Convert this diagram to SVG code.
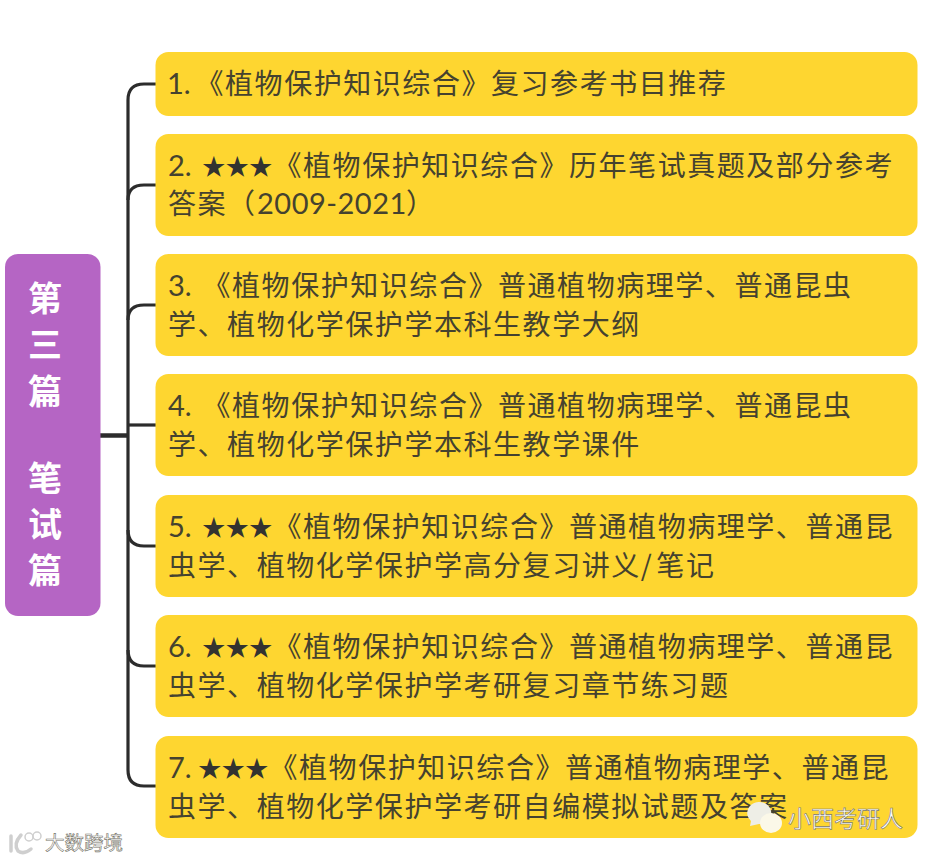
<svg xmlns="http://www.w3.org/2000/svg" width="934" height="860" viewBox="0 0 934 860">
<style>
.box{fill:#fed630}
.t{font-family:"Noto Sans CJK SC","Noto Sans",sans-serif;font-size:28px;letter-spacing:1.55px;fill:#45422f}
.n{font-family:Lato,"Liberation Sans",sans-serif;font-size:29px;fill:#45422f}
.y{font-family:Lato,"Liberation Sans",sans-serif;font-size:29px;letter-spacing:.5px;fill:#45422f}
.s{font-family:"Noto Sans CJK SC","DejaVu Sans",sans-serif;font-size:23.5px;fill:#333330}
.r{font-family:"Noto Sans CJK SC",sans-serif;font-size:34px;font-weight:700;fill:#fff;text-anchor:middle}
.c{fill:none;stroke:#2c2c2c;stroke-width:3.2}
.wm{font-family:"Noto Sans CJK SC",sans-serif;fill:#fff;stroke:#77756a;stroke-width:.6}
.lg{fill:none;stroke:#cfcfcf;stroke-linecap:round}
</style>
<rect width="934" height="860" fill="#fff"/>
<g id="connectors">
<path class="c" style="stroke-width:4.5" d="M100 435.500H128"/>
<path class="c" d="M128 435V100Q128 84 144 84H156"/>
<path class="c" d="M128 200Q128 185 144 185H156"/>
<path class="c" d="M128 320Q128 305 144 305H156"/>
<path class="c" d="M128 425H156"/>
<path class="c" d="M128 530Q128 546 144 546H156"/>
<path class="c" d="M128 435V650Q128 666 144 666H156"/>
<path class="c" d="M128 650V770Q128 786 144 786H156"/>
</g>
<g id="root">
<rect x="5" y="254" width="95.500" height="362" rx="13" fill="#b565c4"/>
<text class="r" x="45" y="311">第</text>
<text class="r" x="45" y="357">三</text>
<text class="r" x="45" y="404">篇</text>
<text class="r" x="45" y="491">笔</text>
<text class="r" x="45" y="537">试</text>
<text class="r" x="45" y="583">篇</text>
</g>
<g id="node1">
<rect class="box" x="155.500" y="52" width="762" height="64" rx="13"/>
<text class="n" x="167" y="94">1.</text>
<text class="t" x="195.500" y="94">《植物保护知识综合》复习参考书目推荐</text>
</g>
<g id="node2">
<rect class="box" x="155.500" y="134" width="762" height="102" rx="13"/>
<text class="n" x="168" y="176">2.</text>
<text class="s" x="202" y="175">★★★</text>
<text class="t" x="273.500" y="176">《植物保护知识综合》历年笔试真题及部分参考</text>
<text class="t" x="168" y="214">答案（</text>
<text class="y" x="257" y="214">2009-2021</text>
<text class="t" x="406" y="214">）</text>
</g>
<g id="node3">
<rect class="box" x="155.500" y="254" width="762" height="102" rx="13"/>
<text class="n" x="168" y="296">3.</text>
<text class="t" x="202.500" y="296">《植物保护知识综合》普通植物病理学、普通昆虫</text>
<text class="t" x="168" y="335">学、植物化学保护学本科生教学大纲</text>
</g>
<g id="node4">
<rect class="box" x="155.500" y="374" width="762" height="102" rx="13"/>
<text class="n" x="168" y="416">4.</text>
<text class="t" x="202.500" y="416">《植物保护知识综合》普通植物病理学、普通昆虫</text>
<text class="t" x="168" y="455">学、植物化学保护学本科生教学课件</text>
</g>
<g id="node5">
<rect class="box" x="155.500" y="495" width="762" height="102" rx="13"/>
<text class="n" x="168" y="537">5.</text>
<text class="s" x="202" y="536">★★★</text>
<text class="t" x="273.500" y="537">《植物保护知识综合》普通植物病理学、普通昆</text>
<text class="t" x="168" y="576">虫学、植物化学保护学高分复习讲义/<tspan dx="3">笔记</tspan></text>
</g>
<g id="node6">
<rect class="box" x="155.500" y="615" width="762" height="102" rx="13"/>
<text class="n" x="168" y="657">6.</text>
<text class="s" x="202" y="656">★★★</text>
<text class="t" x="273.500" y="657">《植物保护知识综合》普通植物病理学、普通昆</text>
<text class="t" x="168" y="696">虫学、植物化学保护学考研复习章节练习题</text>
</g>
<g id="node7">
<rect class="box" x="155.500" y="736" width="762" height="102" rx="13"/>
<text class="n" x="168" y="778">7.</text>
<text class="s" x="198" y="777">★★★</text>
<text class="t" x="269.500" y="778">《植物保护知识综合》普通植物病理学、普通昆</text>
<text class="t" x="168" y="817">虫学、植物化学保护学考研自编模拟试题及答案</text>
</g>
<g id="watermarks">
<path d="M750 826l1-5a12 11 0 1 1 8 3z" fill="#eeeee6"/>
<ellipse cx="771" cy="823" rx="11" ry="10" fill="#fbf8e8"/>
<text class="wm" x="788" y="827" font-size="23">小西考研人</text>
<path class="lg" stroke-width="3.500" d="M11 836V851M21 835Q13 844 18 851Q24 855 31 849"/>
<circle class="lg" cx="29" cy="837" r="4" stroke-width="1.500"/>
<circle class="lg" cx="37" cy="836" r="4" stroke-width="1.500"/>
<text class="wm" x="45" y="850" font-size="19.500">大数跨境</text>
</g>
</svg>
